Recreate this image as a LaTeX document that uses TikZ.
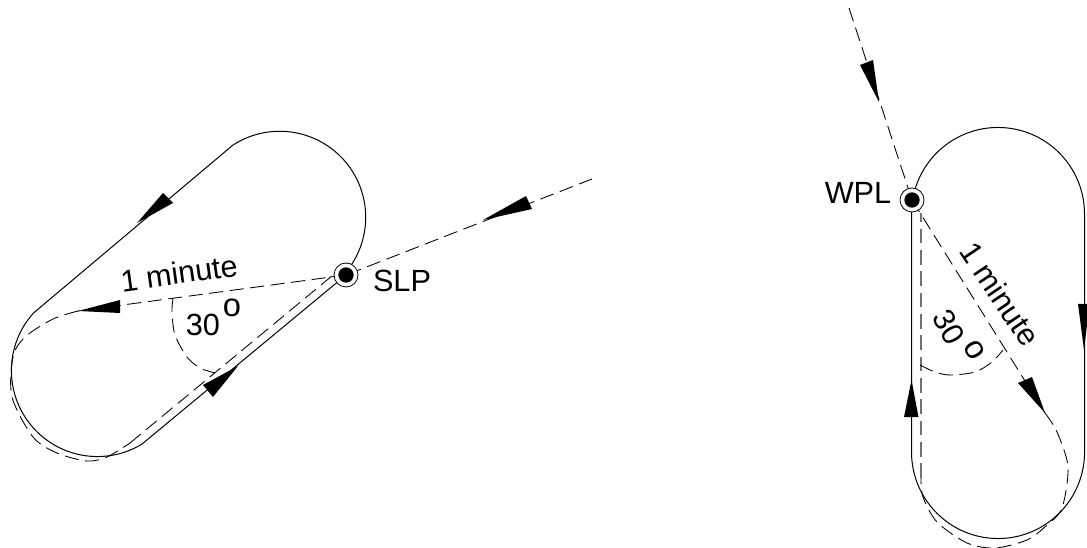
\documentclass[tikz,border=0pt]{standalone}
\usepackage{fontspec}
\setmainfont{Liberation Sans}
\tikzset{
  x=0.75pt,y=-0.75pt,
  track/.style={draw=black,line width=0.75pt},
  dashline/.style={draw=black,line width=0.65pt,dash pattern=on 10.5pt off 5pt},
  greydash/.style={draw=black!55,line width=1pt,dash pattern=on 11pt off 5pt},
  head/.style={fill=black,draw=none},
  fix/.style={circle,draw=black,line width=0.6pt,fill=white,minimum size=18pt,inner sep=0pt},
  dot/.style={circle,fill=black,minimum size=11.5pt,inner sep=0pt},
  lbl/.style={font=\fontsize{23pt}{27pt}\selectfont,inner sep=0pt},
  lblo/.style={font=\fontsize{24.5pt}{27pt}\selectfont,inner sep=0pt},
}
\begin{document}
\begin{tikzpicture}
\useasboundingbox (0,0) rectangle (1087,548);
\path[fill=white] (0,0) rectangle (1087,548);
\coordinate (S) at (346,275);
\coordinate (W) at (912,200);
\coordinate (c1) at (592,179);
\coordinate (c2) at (849,8);
% solid racetrack left
\draw[track] (344.6,273.7) arc[start angle=-41,end angle=123,radius=64.5pt]
  -- (33.5,313) arc[start angle=138,end angle=301,radius=64.5pt] -- (S);
% dashed left
\draw[dashline] (c1) -- (S);
\draw[dashline] (S) -- (78,311);
\draw[dashline] plot[smooth] coordinates {(78,311) (53,319) (25,337) (13,357) (12,397) (33,437) (57,453) (87,461) (107,457) (130,443)};
\draw[dashline] (130,443) -- (344,266);
\draw[dashline] plot[smooth] coordinates {(173,298) (172,312) (175,335) (187,357) (200,368) (215,373)};
% left arrowheads
\fill[head] (163,193) -- (173,203) -- (137,223) -- cycle;
\fill[head] (238,366) -- (203,385) -- (213,397) -- cycle;
\fill[head] (78,311) -- (120,300) -- (120,313) -- cycle;
\fill[head] (483,220) -- (526,196) -- (532,209) -- cycle;
% solid racetrack right
\draw[track] (911.5,200) -- (911.5,452) arc[start angle=180,end angle=360,radius=64.9pt]
  -- (1084.5,214) arc[start angle=0,end angle=169,radius=64.9pt];
% dashed right
\draw[dashline] (c2) -- (W);
\draw[dashline] (W) -- (1045,413);
\draw[dashline] plot[smooth] coordinates {(1045,413) (1057,432) (1068,467) (1062,508) (1047,525) (1027,540) (995,548) (967,543) (937,522) (923,497) (921,478)};
\draw[greydash] (921,478) -- (921,213);
\draw[dashline] plot[smooth] coordinates {(920,365) (935,372) (950,375) (975,372) (992,362) (1003,350)};
% right arrowheads
\fill[head] (860,65) -- (873,60) -- (879,102) -- cycle;
\fill[head] (1018,383) -- (1032,377) -- (1045,413) -- cycle;
\fill[head] (911.5,380) -- (904,417) -- (918.5,417) -- cycle;
\fill[head] (1078,304) -- (1087,304) -- (1087,325) -- (1084,350) -- cycle;
% fixes
\node[fix] (SLPf) at (S) {};
\node[dot] (SLPd) at (S) {};
\node[fix] (WPLf) at (W) {};
\node[dot] (WPLd) at (W) {};
% labels
\node[lbl] (slp) at (402,281) {SLP};
\node[lbl] (wpl) at (858,193) {WPL};
\node[lbl,rotate=8] (m1) at (179,273) {1 minute};
\node[lbl,rotate=-56] (m2) at (1000,294) {1 minute};
\node[lbl] (t1) at (203,325) {30};
\node[lblo] (o1) at (232,308) {o};
\node[lbl,rotate=-60] (t2) at (949,327) {30};
\node[lblo,rotate=-60] (o2) at (974,350) {o};
\end{tikzpicture}
\end{document}
